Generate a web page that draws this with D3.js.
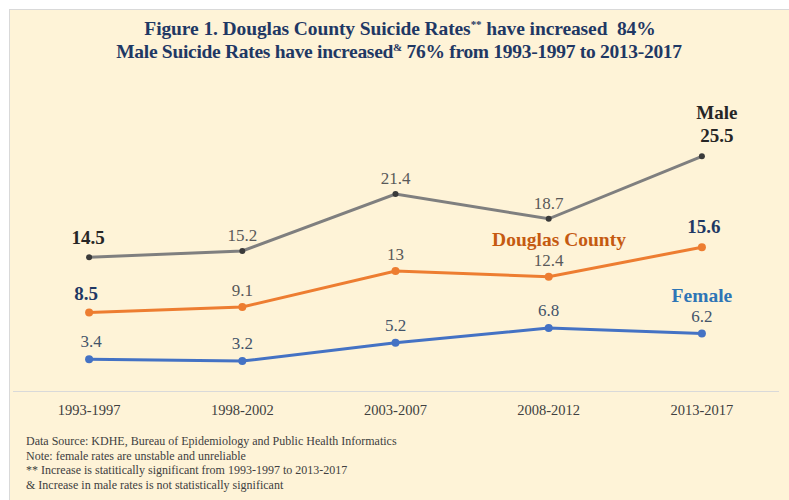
<!DOCTYPE html>
<html><head><meta charset="utf-8">
<script src="https://cdn.jsdelivr.net/npm/d3@7"></script>
<style>
html,body{margin:0;padding:0;background:#fff;}
svg{display:block;}
</style></head>
<body>
<svg id="chart" width="789" height="500"></svg>
<script>
const categories = ["1993-1997","1998-2002","2003-2007","2008-2012","2013-2017"];
const maleValues = [14.5, 15.2, 21.4, 18.7, 25.5];
const countyValues = [8.5, 9.1, 13, 12.4, 15.6];
const femaleValues = [3.4, 3.2, 5.2, 6.8, 6.2];
const titleLines = ["Figure 1. Douglas County Suicide Rates", "Male Suicide Rates have increased"];
const footnotes = [
  "Data Source: KDHE, Bureau of Epidemiology and Public Health Informatics",
  "Note: female rates are unstable and unreliable",
  "** Increase is statitically significant from 1993-1997 to 2013-2017",
  "& Increase in male rates is not statistically significant"
];

const svg = d3.select("#chart");
const font = "'Liberation Serif', 'DejaVu Serif', serif";

svg.append("rect").attr("x",9.5).attr("y",9.5).attr("width",790).attr("height",500)
  .attr("fill","#fef3d7").attr("stroke","#d9d9d9").attr("stroke-width",1);

const x = d3.scaleBand().domain(categories).range([12.5, 778.5]);
const y = d3.scaleLinear().domain([0, 30]).range([390.5, 115]);
const cx = c => x(c) + x.bandwidth()/2;

// title
const t = svg.append("text").attr("text-anchor","middle").attr("font-family",font)
  .attr("font-weight","bold").attr("fill","#1f3864").attr("font-size",19.5)
  .style("white-space","pre");
const l1 = t.append("tspan").attr("x",400).attr("y",34.5).attr("letter-spacing",-0.1).text(titleLines[0]);
l1.append("tspan").attr("font-size",11).attr("dy",-7).text("**");
l1.append("tspan").attr("dy",7).text(" have increased  84%");
const l2 = t.append("tspan").attr("x",399).attr("y",57.5).attr("letter-spacing",-0.3).text(titleLines[1]);
l2.append("tspan").attr("font-size",11).attr("dy",-7).text("&");
l2.append("tspan").attr("dy",7).text(" 76% from 1993-1997 to 2013-2017");

// axis
const axis = d3.axisBottom(x).tickSize(0).tickPadding(14);
const ag = svg.append("g").attr("transform","translate(0,391)").call(axis);
ag.select(".domain").attr("stroke","#d9d9d9").attr("stroke-width",1);
ag.selectAll("text").attr("font-family",font).attr("font-size",14.5).attr("fill","#404040");

const series = [
  {vals: maleValues, line:"#7f7f7f", dot:"#3a3a3a", r:3},
  {vals: countyValues, line:"#ed7d31", dot:"#ed7d31", r:4},
  {vals: femaleValues, line:"#4472c4", dot:"#4472c4", r:4}
];
const lineGen = d3.line().x((d,i)=>cx(categories[i])).y(d=>y(d));
series.forEach(s=>{
  svg.append("path").datum(s.vals).attr("d",lineGen).attr("fill","none")
    .attr("stroke",s.line).attr("stroke-width",3);
  svg.selectAll(null).data(s.vals).enter().append("circle")
    .attr("cx",(d,i)=>cx(categories[i])).attr("cy",d=>y(d)).attr("r",s.r).attr("fill",s.dot);
});

// data labels
function label(txt, px, py, opts){
  svg.append("text").attr("x",px).attr("y",py).attr("text-anchor","middle")
    .attr("font-family",font).attr("font-size",opts.size||17)
    .attr("font-weight",opts.bold?"bold":"normal").attr("fill",opts.color||"#404040").text(txt);
}
const fmt = d => String(d);
const B = 19;
maleValues.forEach((v,i)=>{
  const px = cx(categories[i]), py = y(v);
  if(i===0) label(fmt(v), px-1, py-13, {bold:true,size:B,color:"#262626"});
  else if(i===4) label(fmt(v), px+15, py-14, {bold:true,size:B,color:"#262626"});
  else label(fmt(v), px, py-10, {color:"#595959"});
});
countyValues.forEach((v,i)=>{
  const px = cx(categories[i]), py = y(v);
  if(i===0) label(fmt(v), px-3, py-12, {bold:true,size:B,color:"#1f3864"});
  else if(i===4) label(fmt(v), px+2, py-14, {bold:true,size:B,color:"#1f3864"});
  else label(fmt(v), px, py-11, {color:"#595959"});
});
femaleValues.forEach((v,i)=>{
  const px = cx(categories[i]), py = y(v);
  label(fmt(v), i===0?px+2:px, py-12, {color:"#44546a"});
});
label("Male", cx(categories[4])+15, y(maleValues[4])-37, {bold:true,size:B,color:"#262626"});
label("Douglas County", 559, 246, {bold:true,size:B+0.5,color:"#c55a11"});
label("Female", cx(categories[4]), 302, {bold:true,size:B+0.5,color:"#2e75b6"});

// footnotes
svg.selectAll(null).data(footnotes).enter().append("text")
  .attr("x",26).attr("y",(d,i)=>445+i*14.5)
  .attr("font-family",font).attr("font-size",12).attr("fill","#404040").text(d=>d);
</script>
</body></html>
